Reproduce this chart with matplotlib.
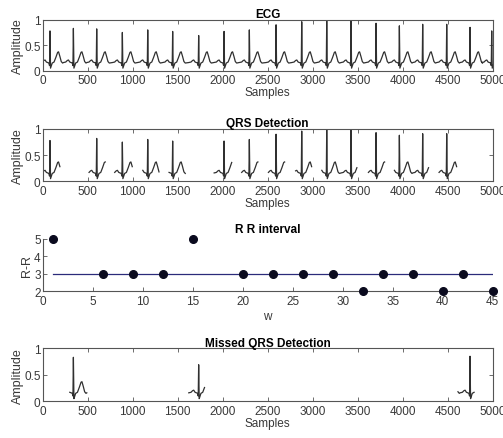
import numpy as np
import matplotlib
matplotlib.use('Agg')
import matplotlib.pyplot as plt

plt.rcParams['font.family'] = ['Liberation Sans', 'DejaVu Sans']
plt.rcParams['font.size'] = 8.5

# R peak positions (samples) and amplitudes
r_pos = [81, 341, 600, 885, 1167, 1444, 1733, 2015, 2296, 2593,
         2878, 3156, 3426, 3704, 3963, 4222, 4489, 4748, 4989]
r_amp = [0.78, 0.83, 0.82, 0.75, 0.80, 0.77, 0.69, 0.77, 0.80, 0.90,
         0.96, 1.00, 0.98, 0.93, 0.88, 0.91, 0.91, 0.85, 0.78]

# one beat shape (offset from R peak, value), R value replaced per beat
beat_off = [-110, -85, -68, -55, -40, -25, -12, -5, 0, 6, 12, 25, 45, 65, 85, 95, 110, 125, 140]
beat_val = [0.16, 0.17, 0.20, 0.21, 0.17, 0.16, 0.15, 0.10, None, 0.05, 0.08, 0.15, 0.17, 0.26, 0.36, 0.37, 0.28, 0.18, 0.15]

# windows kept by the QRS detector and the ones it missed
det_start = [0, 500, 800, 1100, 1400, 1900, 2200, 2500, 2800, 3100, 3600, 3900, 4400]
det_end = [200, 700, 1000, 1300, 1600, 2100, 2400, 2700, 3000, 3500, 3800, 4300, 4600]
miss_start = [300, 1600, 4600]
miss_end = [500, 1800, 4800]

# R-R interval
w = [1, 6, 9, 12, 15, 20, 23, 26, 29, 32, 34, 37, 40, 42, 45]
rr = [5, 3, 3, 3, 5, 3, 3, 3, 3, 2, 3, 3, 2, 3, 2]
rr_ref = 3

# build the ECG polyline
xs, ys = [], []
for p, a in zip(r_pos, r_amp):
    for o, v in zip(beat_off, beat_val):
        xs.append(p + o)
        ys.append(a if v is None else v)
xs = np.array(xs, dtype=float)
ys = np.array(ys, dtype=float)
keep = xs >= 0
xs, ys = xs[keep], ys[keep]


def windowed(starts, ends):
    # keep only the points inside the windows, NaN between windows
    xx, yy = [], []
    prev = None
    for x, y in zip(xs, ys):
        win = None
        for k, (s, e) in enumerate(zip(starts, ends)):
            if s <= x <= e:
                win = k
                break
        if win is None:
            prev = None
            continue
        if win != prev:
            xx.append(np.nan)
            yy.append(np.nan)
        xx.append(x)
        yy.append(y)
        prev = win
    return np.array(xx), np.array(yy)


W, H = 503, 439
fig = plt.figure(figsize=(W / 100, H / 100), dpi=100)

axc = '#555555'
txc = '#383838'


def place(top, bottom):
    return [42.7 / W, 1 - bottom / H, 450 / W, (bottom - top) / H]


def style(ax, box=True):
    for s in ax.spines.values():
        s.set_color(axc)
        s.set_linewidth(0.8)
    if not box:
        ax.spines['top'].set_visible(False)
        ax.spines['right'].set_visible(False)
    ax.tick_params(direction='in', length=3, width=0.6, colors=axc, labelcolor=txc,
                   labelsize=8.5, top=box, right=box)
    ax.tick_params(axis='x', pad=2.5)
    ax.tick_params(axis='y', pad=1.5)


def ecg_axes(ax, title):
    ax.set_xlim(0, 5000)
    ax.set_ylim(0, 1)
    ax.set_xticks(np.arange(0, 5001, 500))
    ax.set_yticks([0, 0.5, 1])
    ax.set_yticklabels(['0', '0.5', '1'])
    ax.set_title(title, fontsize=8.5, fontweight='bold', pad=2)
    ax.set_xlabel('Samples', color=txc, labelpad=0)
    ax.set_ylabel('Amplitude', color=txc, labelpad=0, fontsize=9)
    style(ax)


lc = '#303030'

ax1 = fig.add_axes(place(20.7, 71.7))
ax1.plot(xs, ys, color=lc, lw=0.9)
ecg_axes(ax1, 'ECG')

ax2 = fig.add_axes(place(130, 182.3))
dx, dy = windowed(det_start, det_end)
ax2.plot(dx, dy, color=lc, lw=0.9)
ecg_axes(ax2, 'QRS Detection')

ax3 = fig.add_axes(place(240, 292.3))
ax3.plot([w[0], w[-1]], [rr_ref, rr_ref], color='#2b2b7a', lw=0.9)
ax3.plot(w, rr, 'o', color='#0a0a1e', ms=5.5, clip_on=False, zorder=3)
ax3.set_xlim(0, 45)
ax3.set_ylim(2, 5)
ax3.set_xticks(np.arange(0, 46, 5))
ax3.set_yticks([2, 3, 4, 5])
ax3.set_title('R R interval', fontsize=8.5, fontweight='bold', pad=5)
ax3.set_xlabel('w', color=txc, labelpad=2)
ax3.set_ylabel('R-R', color=txc, labelpad=1, fontsize=9)
style(ax3, box=False)

ax4 = fig.add_axes(place(349.3, 402.3))
mx, my = windowed(miss_start, miss_end)
ax4.plot(mx, my, color=lc, lw=0.9)
ecg_axes(ax4, 'Missed QRS Detection')

fig.savefig('out.png', dpi=100)
